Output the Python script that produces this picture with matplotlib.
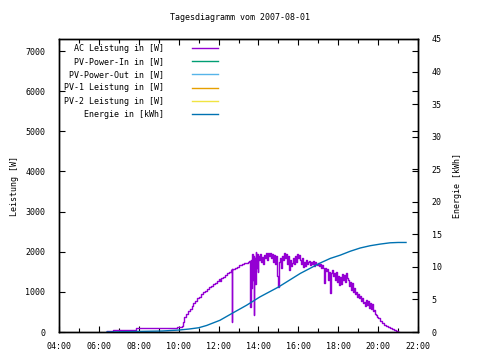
import matplotlib
matplotlib.use("Agg")
import matplotlib.pyplot as plt
from matplotlib.ticker import MultipleLocator, FuncFormatter

# AC Leistung [W] (hour of day, watts)
ac_time = [6.40, 6.70, 7.05, 7.30, 7.85, 8.50, 9.00, 9.50, 9.90, 10.15, 10.22, 10.27,
           10.35, 10.45, 10.55, 10.65, 10.72, 10.80, 10.90, 11.00, 11.10, 11.20, 11.30,
           11.40, 11.50, 11.60, 11.70, 11.80, 11.90, 12.00, 12.05, 12.10, 12.20, 12.30,
           12.40, 12.50, 12.60, 12.65, 12.66, 12.68, 12.80, 12.90, 13.00, 13.10, 13.20,
           13.30, 13.40, 13.50, 13.55, 13.58, 13.60, 13.62, 13.65, 13.68, 13.72, 13.75,
           13.78, 13.80, 13.83, 13.86, 13.90, 13.93, 13.96, 14.00, 14.05, 14.10, 14.15,
           14.20, 14.25, 14.30, 14.35, 14.40, 14.45, 14.50, 14.55, 14.60, 14.65, 14.70,
           14.75, 14.80, 14.85, 14.90, 14.95, 15.00, 15.05, 15.10, 15.15, 15.20, 15.25,
           15.30, 15.35, 15.40, 15.45, 15.50, 15.55, 15.60, 15.65, 15.70, 15.75, 15.80,
           15.85, 15.90, 15.95, 16.00, 16.05, 16.10, 16.15, 16.20, 16.25, 16.30, 16.35,
           16.40, 16.45, 16.50, 16.55, 16.60, 16.65, 16.70, 16.75, 16.80, 16.85, 16.90,
           16.95, 17.00, 17.05, 17.10, 17.15, 17.20, 17.25, 17.30, 17.35, 17.40, 17.45,
           17.50, 17.55, 17.60, 17.65, 17.70, 17.75, 17.80, 17.85, 17.90, 17.95, 18.00,
           18.05, 18.10, 18.15, 18.20, 18.25, 18.30, 18.35, 18.40, 18.45, 18.50, 18.55,
           18.60, 18.65, 18.70, 18.75, 18.80, 18.85, 18.90, 18.95, 19.00, 19.05, 19.10,
           19.15, 19.20, 19.25, 19.30, 19.35, 19.40, 19.45, 19.50, 19.55, 19.60, 19.65,
           19.70, 19.75, 19.80, 19.85, 19.90, 19.95, 20.00, 20.10, 20.20, 20.30, 20.40,
           20.50, 20.60, 20.70, 20.80, 20.90, 21.00, 21.05]
ac_power = [20, 40, 60, 60, 90, 95, 95, 100, 130, 160, 250, 380,
            460, 520, 570, 640, 720, 780, 850, 880, 940, 990, 1030,
            1070, 1110, 1150, 1190, 1230, 1260, 1310, 1280, 1350, 1380, 1420,
            1460, 1500, 1540, 1560, 250, 1570, 1600, 1630, 1660, 1670, 1690,
            1710, 1720, 1740, 1760, 1650, 620, 1800, 1100, 1950, 1300, 1900,
            420, 1850, 1200, 2000, 1600, 1950, 1500, 1900, 1800, 1950, 1750,
            1880, 1700, 1920, 1850, 1970, 1800, 1960, 1900, 1980, 1850, 1950,
            1750, 1920, 1700, 1900, 1400, 1120, 1750, 1850, 1600, 1900, 1800,
            1970, 1850, 1950, 1700, 1900, 1550, 1800, 1650, 1720, 1850, 1700,
            1900, 1750, 1950, 1850, 1920, 1800, 1700, 1850, 1620, 1750, 1650,
            1800, 1700, 1740, 1780, 1680, 1750, 1700, 1780, 1650, 1740, 1700,
            1670, 1720, 1650, 1700, 1600, 1680, 1590, 1220, 1600, 1520, 1560,
            1300, 1500, 970, 1480, 1550, 1400, 1470, 1300, 1500, 1250, 1400,
            1170, 1370, 1200, 1450, 1300, 1420, 1250, 1480, 1350, 1300, 1150,
            1250, 1050, 1220, 1000, 1100, 950, 1000, 880, 950, 850, 900,
            780, 850, 720, 750, 650, 800, 680, 780, 600, 720, 580,
            700, 520, 550, 450, 420, 380, 350, 280, 220, 170, 140,
            120, 90, 70, 50, 30, 10, 0]

# Energie [kWh]
en_time = [6.40, 9.17, 10.0, 10.5, 11.0, 11.4, 12.07, 12.7, 13.4, 14.08, 15.0, 16.1,
           17.1, 17.6, 18.1, 18.6, 19.1, 19.6, 20.1, 20.6, 21.0, 21.4]
en_kwh = [0.0, 0.15, 0.3, 0.45, 0.65, 1.0, 1.8, 2.9, 4.1, 5.4, 6.9, 9.0,
          10.6, 11.3, 11.8, 12.4, 12.9, 13.25, 13.5, 13.7, 13.75, 13.75]

x_ticks = [4, 6, 8, 10, 12, 14, 16, 18, 20, 22]

font = "DejaVu Sans Mono"
fs = 6
plt.rcParams['font.family'] = font
plt.rcParams['font.size'] = fs

fig = plt.figure(figsize=(4.8, 3.6), dpi=100)
ax = fig.add_axes([59 / 480, 28 / 360, 359 / 480, 293 / 360])
ax2 = ax.twinx()

ax.plot(ac_time, ac_power, color="#9400d3", lw=1, drawstyle="steps-post",
        label="AC Leistung in [W]")
ax.plot([], [], color="#009e73", lw=1, label="PV-Power-In in [W]")
ax.plot([], [], color="#56b4e9", lw=1, label="PV-Power-Out in [W]")
ax.plot([], [], color="#e69f00", lw=1, label="PV-1 Leistung in [W]")
ax.plot([], [], color="#f0e442", lw=1, label="PV-2 Leistung in [W]")
ax2.plot(en_time, en_kwh, color="#0072b2", lw=1, label="Energie in [kWh]")

ax.set_xlim(4, 22)
ax.set_ylim(0, 7300)
ax2.set_ylim(0, 45)

ax.set_xticks(x_ticks)
ax.xaxis.set_minor_locator(MultipleLocator(1))
ax.xaxis.set_major_formatter(FuncFormatter(lambda v, p: "%02d:00" % int(round(v))))
ax.yaxis.set_major_locator(MultipleLocator(1000))
ax2.yaxis.set_major_locator(MultipleLocator(5))

ax.tick_params(axis="both", which="both", direction="in", top=True, right=True,
               labelsize=fs, width=0.8)
ax.tick_params(axis="x", which="major", length=4, pad=7)
ax.tick_params(axis="x", which="minor", length=3)
ax.tick_params(axis="y", which="major", length=4, pad=10)
ax2.tick_params(axis="y", direction="in", length=4, pad=10, labelsize=fs, width=0.8)

for a in (ax, ax2):
    for s in a.spines.values():
        s.set_linewidth(1)
        s.set_color("black")

ax.set_ylabel("Leistung [W]", fontsize=fs)
ax.yaxis.set_label_coords(-0.111, 0.5)
ax2.set_ylabel("Energie [kWh]", fontsize=fs, rotation=90)
ax2.yaxis.set_label_coords(1.097, 0.5)
fig.text(0.5, 1 - 17 / 360, "Tagesdiagramm vom 2007-08-01", ha="center", va="center",
         fontsize=fs)

h1, l1 = ax.get_legend_handles_labels()
h2, l2 = ax2.get_legend_handles_labels()
leg = ax.legend(h1 + h2, l1 + l2, loc="upper left", bbox_to_anchor=(0.0, 1.0),
                markerfirst=False, frameon=False, fontsize=fs, handlelength=3.2,
                handletextpad=3.3, labelspacing=0.5, borderaxespad=0.2)

fig.savefig("out.png", dpi=100)
